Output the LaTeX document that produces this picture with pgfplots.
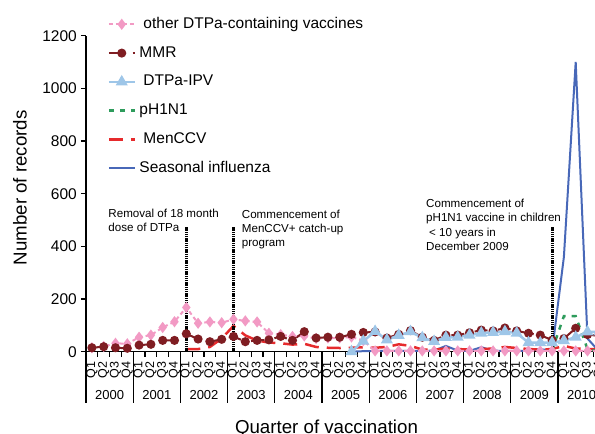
\documentclass[border=0pt]{standalone}
\usepackage{fontspec}
\setmainfont{Liberation Sans}
\usepackage{pgfplots}
\pgfplotsset{compat=1.18}

\definecolor{mmr}{HTML}{7F1D22}
\definecolor{pinkd}{HTML}{F29AC4}
\definecolor{ipv}{HTML}{9EC6E8}
\definecolor{hone}{HTML}{2E9C5C}
\definecolor{menc}{HTML}{E62A2C}
\definecolor{flu}{HTML}{4868B8}

\pgfplotstableread{
x y
0 15
1 20
2 32
3 30
4 55
5 63
6 92
7 114
8 168
9 108
10 113
11 110
12 123
13 117
14 113
15 70
16 65
17 58
18 60
19 50
20 52
21 52
22 56
23 42
24 3
25 3
26 3
27 3
28 3
29 3
30 3
31 3
32 3
33 3
34 3
35 3
36 3
37 3
38 3
39 3
40 3
41 3
42 3
43 3
}\pinktab

\pgfplotstableread{
x y
0 15
1 19
2 15
3 13
4 25
5 28
6 43
7 43
8 68
9 48
10 38
11 47
12 58
13 38
14 43
15 45
16 58
17 43
18 76
19 52
20 55
21 55
22 66
23 73
24 75
25 52
26 66
27 80
28 55
29 43
30 63
31 63
32 72
33 82
34 79
35 90
36 79
37 70
38 63
39 44
40 50
41 89
42 65
43 60
}\mmrtab

\pgfplotstableread{
x y
22 0
23 40
24 77
25 45
26 62
27 76
28 53
29 39
30 54
31 55
32 63
33 71
34 73
35 76
36 71
37 34
38 34
39 34
40 42
41 55
42 75
43 75
}\ipvtab

\pgfplotstableread{
x y
39 5
40 135
41 135
42 10
43 0
}\honetab

\pgfplotstableread{
x y
8 10
9 10
10 18
11 50
12 98
13 62
14 42
15 35
16 32
17 27
18 30
19 18
20 15
21 14
22 15
23 17
24 15
25 18
26 28
27 22
28 8
29 8
30 12
31 10
32 8
33 10
34 12
35 18
36 14
37 10
38 8
39 10
40 22
41 12
42 10
43 10
}\menctab

\pgfplotstableread{
x y
22 0
23 2
24 3
25 3
26 3
27 3
28 3
29 4
30 22
31 4
32 3
33 17
34 4
35 3
36 3
37 4
38 10
39 3
40 360
41 1100
42 50
43 0
}\flutab

\begin{document}
\begin{tikzpicture}
\begin{axis}[
  at={(0pt,0pt)}, anchor=south west,
  scale only axis, width=519.2pt, height=316pt,
  xmin=-0.5, xmax=43.5, ymin=0, ymax=1200,
  axis lines=left,
  axis line style={-, line width=1.1pt, black},
  clip=false,
  tick align=outside,
  major tick length=5pt,
  every tick/.style={black, line width=1.1pt},
  xtick={-0.5,0.5,...,43.5},
  x tick label as interval,
  xticklabels={Q1,Q2,Q3,Q4,Q1,Q2,Q3,Q4,Q1,Q2,Q3,Q4,Q1,Q2,Q3,Q4,Q1,Q2,Q3,Q4,Q1,Q2,Q3,Q4,Q1,Q2,Q3,Q4,Q1,Q2,Q3,Q4,Q1,Q2,Q3,Q4,Q1,Q2,Q3,Q4,Q1,Q2,Q3,Q4},
  xticklabel style={rotate=90, anchor=east, inner sep=0pt, font=\fontsize{12.5}{14}\selectfont},
  xticklabel shift=5pt,
  extra x ticks={-0.5,3.5,7.5,11.5,15.5,19.5,23.5,27.5,31.5,35.5,39.5,43.5},
  extra x tick labels={},
  extra x tick style={major tick length=51pt},
  ytick={0,200,400,600,800,1000,1200},
  yticklabel style={inner sep=0pt, font=\fontsize{15.5}{18}\selectfont, xshift=-4pt},
  /pgf/number format/assume math mode=true,
  /pgf/number format/1000 sep={},
  legend image code/.code={\draw[mark repeat=2,mark phase=2,#1] plot coordinates {(0pt,0pt) (12.8pt,0pt) (25.6pt,0pt)};},
  legend style={at={(axis cs:-0.5,1200)}, anchor=north west, xshift=21.7pt, yshift=18.9pt,
    draw=none, fill=none, inner sep=0pt, outer sep=0pt, row sep=13.8pt, column sep=3.7pt,
    font=\fontsize{15.5}{18}\selectfont,
    nodes={inner sep=0pt, text height=11.5pt, text depth=3.5pt}},
  legend cell align=left,
]
% legend entries (legend order)
\addlegendimage{pinkd, line width=2pt, dash pattern=on 4pt off 3pt, mark=diamond*, mark size=4pt, mark options={solid, fill=pinkd, draw=pinkd}}
\addlegendentry{\hspace{4pt}other DTPa-containing vaccines}
\addlegendimage{mmr, line width=2pt, dash pattern=on 13pt off 10.6pt, mark=*, mark size=3.5pt, mark options={solid, fill=mmr, draw=mmr}}
\addlegendentry{MMR}
\addlegendimage{ipv, line width=2.5pt, mark=triangle*, mark size=4.5pt, mark options={solid, fill=ipv, draw=ipv}}
\addlegendentry{\hspace{4pt}DTPa-IPV}
\addlegendimage{hone, line width=2.5pt, dash pattern=on 5pt off 6pt}
\addlegendentry{pH1N1}
\addlegendimage{menc, line width=2.5pt, dash pattern=on 14pt off 8pt}
\addlegendentry{\hspace{4pt}MenCCV}
\addlegendimage{flu, line width=2pt}
\addlegendentry{Seasonal influenza}

% data (drawing order)
\addplot[forget plot, flu, line width=2pt] table {\flutab};
\addplot[forget plot, menc, line width=2.5pt, dash pattern=on 14pt off 8pt] table {\menctab};
\addplot[forget plot, hone, line width=2.5pt, dash pattern=on 5pt off 6pt] table {\honetab};
\addplot[forget plot, pinkd, line width=2pt, dash pattern=on 4pt off 3pt, mark=diamond*, mark size=4pt, mark options={solid, fill=pinkd, draw=pinkd}] table {\pinktab};
\addplot[forget plot, mmr, line width=2pt, dash pattern=on 13pt off 10.6pt, mark=*, mark size=3.5pt, mark options={solid, fill=mmr, draw=mmr}] table {\mmrtab};
\addplot[forget plot, ipv, line width=2.5pt, mark=triangle*, mark size=4.5pt, mark options={solid, fill=ipv, draw=ipv}] table {\ipvtab};

% vertical event lines
\addplot[forget plot, black, line width=3pt, dash pattern=on 1.3pt off 0.9pt] coordinates {(8,0) (8,475)};
\addplot[forget plot, black, line width=3pt, dash pattern=on 1.3pt off 0.9pt] coordinates {(12,0) (12,475)};
\addplot[forget plot, black, line width=3pt, dash pattern=on 1.3pt off 0.9pt] coordinates {(39,0) (39,475)};

% annotations
\node[anchor=north west, align=left, inner sep=0pt, font=\fontsize{11.6}{13.9}\selectfont]
  at ([xshift=22.3pt, yshift=142.7pt]axis cs:-0.5,0) {Removal of 18 month\\dose of DTPa};
\node[anchor=north west, align=left, inner sep=0pt, font=\fontsize{11.6}{13.9}\selectfont]
  at ([xshift=155.7pt, yshift=141.7pt]axis cs:-0.5,0) {Commencement of\\MenCCV+ catch-up\\program};
\node[anchor=north west, align=left, inner sep=0pt, font=\fontsize{11.6}{14.4}\selectfont]
  at ([xshift=340pt, yshift=152.7pt]axis cs:-0.5,0) {Commencement of\\pH1N1 vaccine in children\\\hspace{3pt}< 10 years in\\December 2009};

% year labels
\node[inner sep=0pt, font=\fontsize{13}{15}\selectfont] at ([yshift=-43.3pt]axis cs:1.5,0) {2000};
\node[inner sep=0pt, font=\fontsize{13}{15}\selectfont] at ([yshift=-43.3pt]axis cs:5.5,0) {2001};
\node[inner sep=0pt, font=\fontsize{13}{15}\selectfont] at ([yshift=-43.3pt]axis cs:9.5,0) {2002};
\node[inner sep=0pt, font=\fontsize{13}{15}\selectfont] at ([yshift=-43.3pt]axis cs:13.5,0) {2003};
\node[inner sep=0pt, font=\fontsize{13}{15}\selectfont] at ([yshift=-43.3pt]axis cs:17.5,0) {2004};
\node[inner sep=0pt, font=\fontsize{13}{15}\selectfont] at ([yshift=-43.3pt]axis cs:21.5,0) {2005};
\node[inner sep=0pt, font=\fontsize{13}{15}\selectfont] at ([yshift=-43.3pt]axis cs:25.5,0) {2006};
\node[inner sep=0pt, font=\fontsize{13}{15}\selectfont] at ([yshift=-43.3pt]axis cs:29.5,0) {2007};
\node[inner sep=0pt, font=\fontsize{13}{15}\selectfont] at ([yshift=-43.3pt]axis cs:33.5,0) {2008};
\node[inner sep=0pt, font=\fontsize{13}{15}\selectfont] at ([yshift=-43.3pt]axis cs:37.5,0) {2009};
\node[inner sep=0pt, font=\fontsize{13}{15}\selectfont] at ([yshift=-43.3pt]axis cs:41.5,0) {2010};

% axis titles
\node[anchor=north, inner sep=0pt, font=\fontsize{18.7}{22}\selectfont] at ([xshift=240.5pt, yshift=-67.8pt]axis cs:-0.5,0) {Quarter of vaccination};
\node[rotate=90, anchor=center, inner sep=0pt, font=\fontsize{18.7}{22}\selectfont] at ([xshift=-66pt, yshift=164pt]axis cs:-0.5,0) {Number of records};
\end{axis}
\pgfresetboundingbox
\path[use as bounding box] (-86pt,-82.3pt) rectangle (509pt,351.7pt);
\end{tikzpicture}
\end{document}
